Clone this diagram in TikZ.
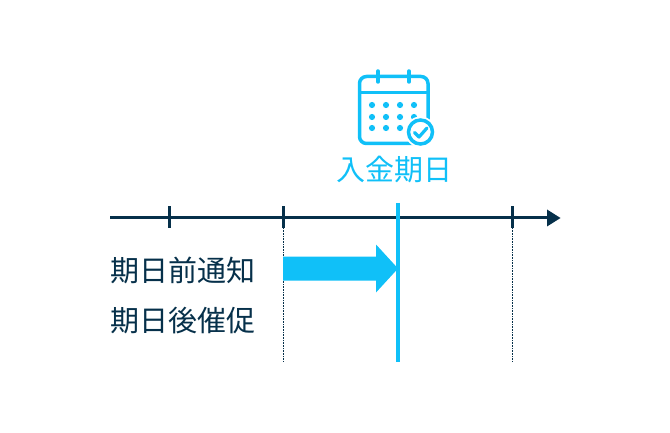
\documentclass[tikz,border=0pt]{standalone}
\usepackage{fontspec}
\setmainfont{Noto Sans CJK JP}
\definecolor{navy}{HTML}{06304A}
\definecolor{sky}{HTML}{10C0F8}
\tikzset{
  axisline/.style={draw=navy,line width=3pt},
  tickmark/.style={draw=navy,line width=2.8pt},
  guide/.style={draw=navy,line width=0.8pt,dash pattern=on 0.6pt off 1pt},
  calline/.style={draw=sky,line width=3.5pt},
  label/.style={text=navy,font=\fontsize{29}{29}\selectfont,anchor=west,inner sep=0pt},
  calcaption/.style={text=sky,font=\fontsize{29}{29}\selectfont,inner sep=0pt}
}
\begin{document}
\begin{tikzpicture}[x=1pt,y=-1pt]
\useasboundingbox (0,0) rectangle (670,433);
\coordinate (axisL) at (110,218);
\coordinate (axisR) at (549,218);
% guides
\draw[guide] (283.5,228) -- (283.5,362);
\draw[guide] (512.5,228) -- (512.5,362);
% axis
\draw[axisline] (axisL) -- (axisR);
\fill[navy] (547,209.5) -- (560.5,218) -- (547,226.5) -- cycle;
\foreach \x in {169.5,283.5,512.5} \draw[tickmark] (\x,206.5) -- (\x,228.5);
% block arrow
\fill[sky] (283,256.5) -- (376,256.5) -- (376,244.5) -- (398,268.5) -- (376,292.5) -- (376,280.5) -- (283,280.5) -- cycle;
% date line
\draw[sky,line width=4pt] (398,203) -- (398,362);
% calendar
\draw[calline,rounded corners=7pt] (359.5,76.5) rectangle (428,143.5);
\draw[calline] (359.5,92.5) -- (428,92.5);
\draw[calline,line cap=round] (378,71) -- (378,82);
\draw[calline,line cap=round] (409,71) -- (409,82);
\foreach \y in {105,117,128} \foreach \x in {372,386,400,414} \fill[sky] (\x,\y) circle (3.1);
\fill[white] (420.5,132) circle (15.5);
\draw[sky,line width=3.5pt] (420.5,132) circle (12);
\draw[sky,line width=3.2pt,line cap=round,line join=round] (414.5,132.5) -- (419,137) -- (427,128);
% texts
\node[calcaption] (cap) at (394.5,170) {入金期日};
\node[label] (l1) at (110,270) {期日前通知};
\node[label] (l2) at (110,321) {期日後催促};
\end{tikzpicture}
\end{document}
